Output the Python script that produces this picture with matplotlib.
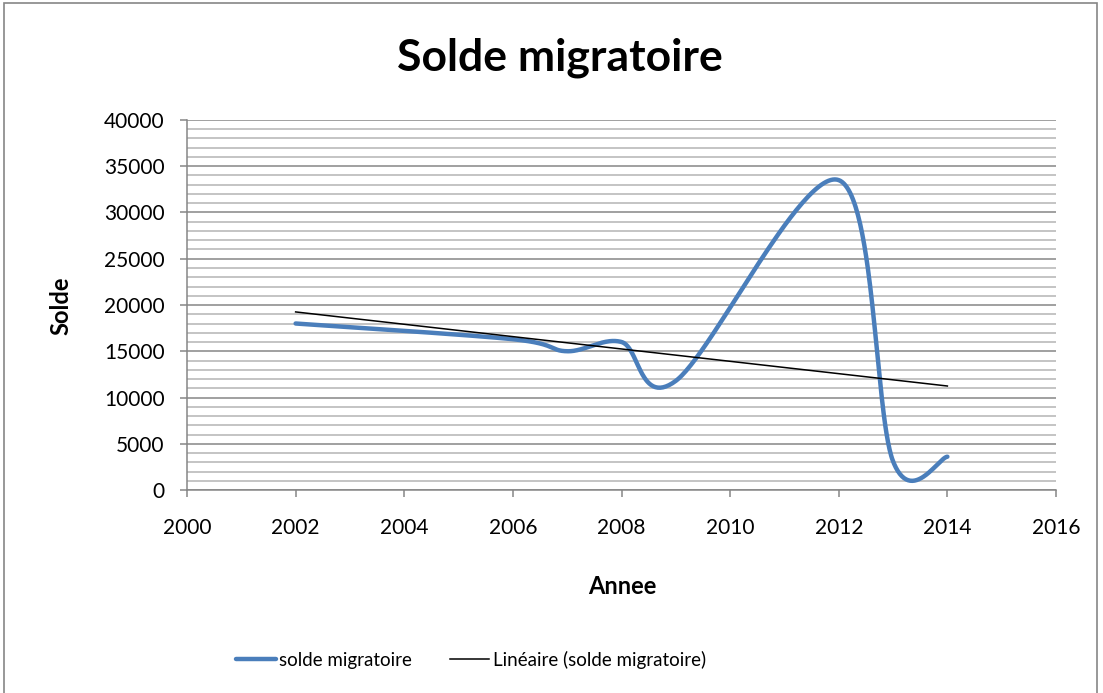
import matplotlib
matplotlib.use('Agg')
import matplotlib.pyplot as plt
from matplotlib.patches import Rectangle
from matplotlib.ticker import MultipleLocator
import numpy as np

# data
annees = [2002, 2006, 2007, 2008, 2009, 2012, 2013, 2014]
solde = [18000, 16300, 15000, 16000, 11800, 33500, 3100, 3600]

plt.rcParams['font.family'] = ['Lato', 'DejaVu Sans']


def excel_smooth(xs, ys, n=60):
    # Excel-style smoothed scatter line (cubic Bezier through every point)
    pts = np.column_stack([xs, ys]).astype(float)
    out = [pts[0]]
    t = np.linspace(0, 1, n)[1:, None]
    for i in range(len(pts) - 1):
        p0 = pts[i]
        p3 = pts[i + 1]
        prev = pts[i - 1] if i > 0 else pts[i]
        nxt = pts[i + 2] if i + 2 < len(pts) else pts[i + 1]
        c1 = p0 + (p3 - prev) / 6
        c2 = p3 - (nxt - p0) / 6
        seg = ((1 - t) ** 3) * p0 + 3 * t * (1 - t) ** 2 * c1 + 3 * t ** 2 * (1 - t) * c2 + t ** 3 * p3
        out.extend(seg)
    out = np.array(out)
    return out[:, 0], out[:, 1]


fig = plt.figure(figsize=(11.03, 6.93), dpi=100)
fig.patches.append(Rectangle((4 / 1103, -0.01), 1093 / 1103, 1 - 3 / 693 + 0.01,
                             transform=fig.transFigure, fill=False,
                             edgecolor='#868686', linewidth=1.2))

ax = fig.add_axes([187 / 1103, 1 - 490 / 693, (1056 - 187) / 1103, (490 - 120) / 693])

sx, sy = excel_smooth(annees, solde)
ax.plot(sx, sy, color='#4a7ebb', linewidth=3.2, solid_capstyle='round',
        label='solde migratoire', zorder=3)

# linear trend line
a, b = np.polyfit(annees, solde, 1)
tx = np.array([annees[0], annees[-1]])
ax.plot(tx, a * tx + b, color='black', linewidth=1.1,
        label='Linéaire (solde migratoire)', zorder=4)

ax.set_xlim(2000, 2016)
ax.set_ylim(0, 40000)
ax.xaxis.set_major_locator(MultipleLocator(2))
ax.yaxis.set_major_locator(MultipleLocator(5000))
ax.yaxis.set_minor_locator(MultipleLocator(1000))
ax.grid(which='minor', axis='y', color='#bfbfbf', linewidth=1.3)
ax.grid(which='major', axis='y', color='#868686', linewidth=1.1)
ax.set_axisbelow(True)

for side in ['top', 'right']:
    ax.spines[side].set_visible(False)
for side in ['left', 'bottom']:
    ax.spines[side].set_color('#868686')
    ax.spines[side].set_linewidth(1.1)

ax.tick_params(axis='both', which='major', length=5, width=1.1, color='#868686',
               labelsize=15)
ax.tick_params(axis='x', pad=15)
ax.tick_params(axis='y', pad=11)
ax.tick_params(axis='y', which='minor', length=0)

fig.text(560 / 1103, 1 - 58 / 693, 'Solde migratoire', fontsize=32,
         fontweight='bold', ha='center', va='center')
fig.text(622 / 1103, 1 - 586 / 693, 'Annee', fontsize=17,
         fontweight='bold', ha='center', va='center')
fig.text(61 / 1103, 1 - 306 / 693, 'Solde', fontsize=17, rotation=90,
         fontweight='bold', ha='center', va='center')

fig.legend(loc='center', bbox_to_anchor=(471 / 1103, 1 - 660 / 693), ncol=2,
           frameon=False, fontsize=13.5, handlelength=2.1, columnspacing=2.0,
           handletextpad=0.2, borderpad=0, borderaxespad=0)

fig.savefig('out.png', dpi=100)
